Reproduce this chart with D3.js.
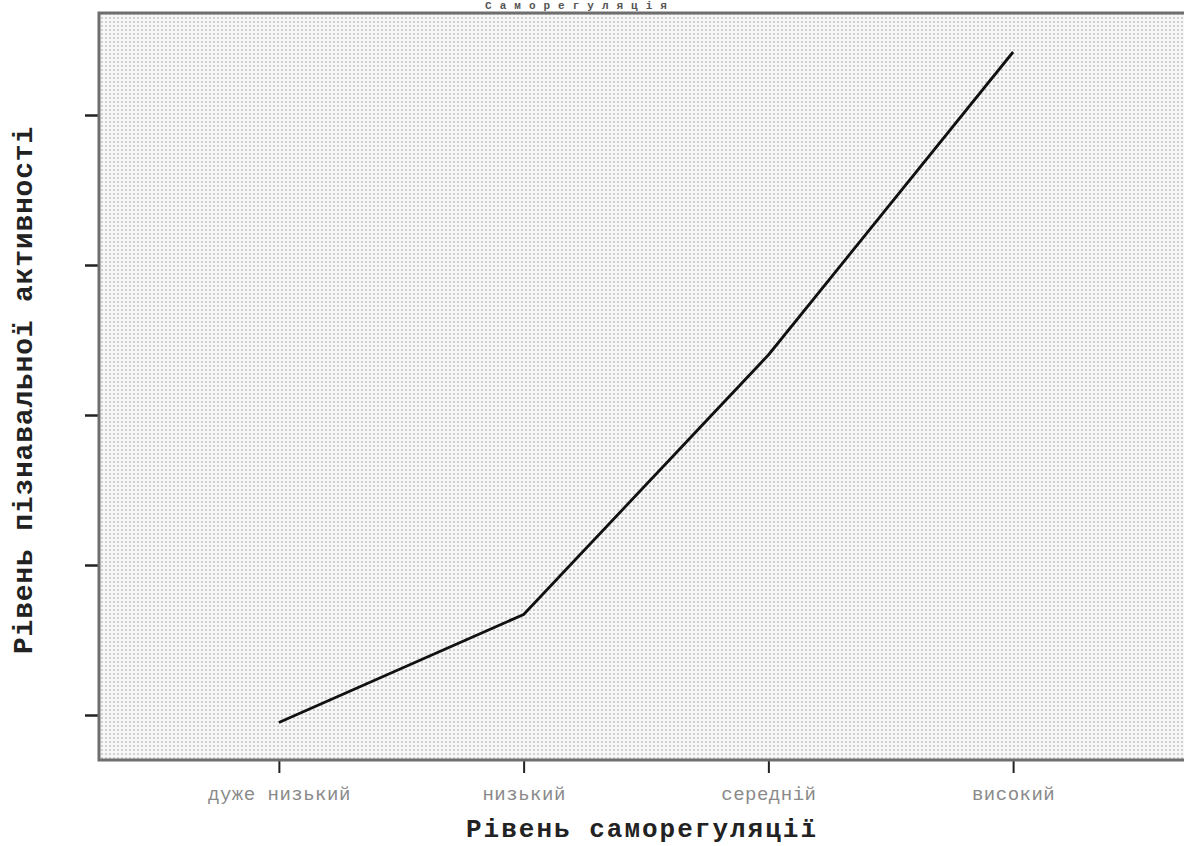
<!DOCTYPE html>
<html>
<head>
<meta charset="utf-8">
<script src="https://cdn.jsdelivr.net/npm/d3@7"></script>
<style>
  html, body { margin: 0; padding: 0; background: #fff; overflow: hidden; }
  svg { display: block; }
</style>
</head>
<body>
<svg id="chart" width="1184" height="846"></svg>
<script>
// Levels of self-regulation (x) and mean cognitive-activity score (y)
const categories = ["дуже низький", "низький", "середній", "високий"];
const activity = [0.95, 1.67, 3.40, 5.42];
const yTicks = [1, 2, 3, 4, 5];

const titleText = "Саморегуляція";
const xTitle = "Рівень саморегуляції";
const yTitle = "Рівень пізнавальної активності";

const svg = d3.select("#chart");
const plot = { left: 99, top: 13, right: 1193, bottom: 760 };

// Dotted fill of the plotting area
const defs = svg.append("defs");
const pat = defs.append("pattern")
  .attr("id", "dots").attr("patternUnits", "userSpaceOnUse")
  .attr("width", 4).attr("height", 4);
pat.append("rect").attr("width", 4).attr("height", 4).attr("fill", "#f7f7f7");
pat.append("rect").attr("x", 1).attr("y", 1).attr("width", 2).attr("height", 2).attr("fill", "#cfcfcf");

const x = d3.scalePoint()
  .domain(categories)
  .range([plot.left, plot.right])
  .padding(0.735);

const y = d3.scaleLinear()
  .domain([0.7, 5.68])
  .range([plot.bottom, plot.top]);

svg.append("rect")
  .attr("x", plot.left).attr("y", plot.top)
  .attr("width", plot.right - plot.left).attr("height", plot.bottom - plot.top)
  .attr("fill", "url(#dots)");

// Axes: ticks only on the y axis, category labels on x
const yAxis = d3.axisLeft(y).tickValues(yTicks).tickSize(14).tickFormat("");
const gy = svg.append("g").attr("transform", `translate(${plot.left},0)`).call(yAxis);
gy.select(".domain").remove();
gy.selectAll(".tick line").attr("stroke", "#222").attr("stroke-width", 2.5);

const xAxis = d3.axisBottom(x).tickSize(13).tickPadding(14);
const gx = svg.append("g").attr("transform", `translate(0,${plot.bottom})`).call(xAxis);
gx.select(".domain").remove();
gx.selectAll(".tick line").attr("stroke", "#222").attr("stroke-width", 2);
gx.selectAll(".tick text")
  .attr("font-family", "'Liberation Mono', 'Courier New', monospace")
  .attr("font-size", 19)
  .attr("fill", "#8a8a8a")
  .attr("letter-spacing", 0.5);

// Frame around the plotting area
svg.append("rect")
  .attr("x", plot.left).attr("y", plot.top)
  .attr("width", plot.right - plot.left).attr("height", plot.bottom - plot.top)
  .attr("fill", "none").attr("stroke", "#6e6e6e").attr("stroke-width", 3);

// Mean line
const line = d3.line()
  .x((d, i) => x(categories[i]))
  .y(d => y(d));

svg.append("path")
  .datum(activity)
  .attr("d", line)
  .attr("fill", "none")
  .attr("stroke", "#111")
  .attr("stroke-width", 2.8)
  .attr("stroke-linejoin", "round");

// Titles
const titleFont = "'Liberation Mono', 'Courier New', monospace";
svg.append("text")
  .attr("x", 580).attr("y", 9)
  .attr("text-anchor", "middle")
  .attr("font-family", titleFont).attr("font-weight", "bold")
  .attr("font-size", 11).attr("letter-spacing", 8)
  .attr("fill", "#555")
  .text(titleText);

svg.append("text")
  .attr("x", 642).attr("y", 837)
  .attr("text-anchor", "middle")
  .attr("font-family", titleFont).attr("font-weight", "bold")
  .attr("font-size", 26).attr("letter-spacing", 2)
  .attr("fill", "#222")
  .text(xTitle);

svg.append("text")
  .attr("transform", "translate(32,390) rotate(-90)")
  .attr("text-anchor", "middle")
  .attr("font-family", titleFont).attr("font-weight", "bold")
  .attr("font-size", 28).attr("letter-spacing", 0.8)
  .attr("fill", "#222")
  .text(yTitle);
</script>
</body>
</html>
